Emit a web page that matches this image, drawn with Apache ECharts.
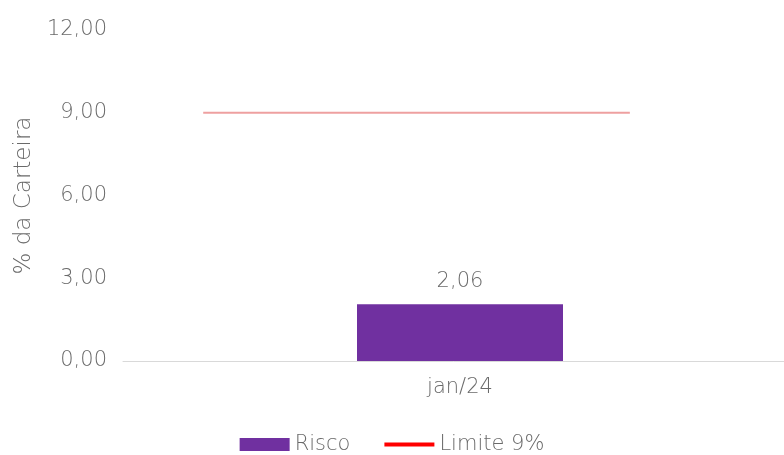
<!DOCTYPE html>
<html>
<head>
<meta charset="utf-8">
<script src="https://cdn.jsdelivr.net/npm/echarts@6/dist/echarts.min.js"></script>
<style>
  html, body { margin: 0; padding: 0; background: #fff; }
  #chart { width: 784px; height: 455px; }
</style>
</head>
<body>
<div id="chart"></div>
<script>
// data
const categories = ['jan/24'];
const riscoValues = [2.06];
const limiteValue = 9;
// start / end of the limit line along the plot width (0..1)
const limiteSpan = [0.119, 0.752];
const yTicks = { min: 0, max: 12, interval: 3 };

const fmt = v => Number(v).toFixed(2).replace('.', ',');
const textColor = '#6a6a6a';
const fontFamily = '"DejaVu Sans", sans-serif';
const fs = 21;

const chart = echarts.init(document.getElementById('chart'));
chart.setOption({
  animation: false,
  textStyle: { fontFamily: fontFamily, color: textColor },
  grid: { left: 123, top: 30, right: -13, bottom: 94, outerBoundsMode: 'none' },
  legend: {
    bottom: 0,
    padding: 0,
    left: 'center',
    itemGap: 34,
    itemWidth: 50,
    itemHeight: 13,
    textStyle: { fontSize: fs, color: textColor, fontWeight: 200 },
    data: [
      { name: 'Risco', icon: 'rect', itemStyle: { color: '#7030a0' } },
      { name: 'Limite 9%', icon: 'path://M0,0 L48,0 L48,4 L0,4 Z', itemStyle: { color: '#ff0000' } }
    ]
  },
  xAxis: [
    {
      type: 'category',
      data: categories,
      axisLine: { lineStyle: { color: '#d9d9d9', width: 1 } },
      axisTick: { show: false },
      axisLabel: { fontSize: fs, color: textColor, margin: 16, fontWeight: 200 }
    },
    {
      type: 'value',
      min: 0,
      max: 1,
      show: false
    }
  ],
  yAxis: {
    type: 'value',
    min: yTicks.min,
    max: yTicks.max,
    interval: yTicks.interval,
    name: '% da Carteira',
    nameLocation: 'middle',
    nameGap: 84,
    nameTextStyle: { fontSize: 23, color: textColor, fontWeight: 200 },
    axisLine: { show: false },
    axisTick: { show: false },
    splitLine: { show: false },
    axisLabel: { fontSize: fs, color: textColor, margin: 16, fontWeight: 200, formatter: fmt }
  },
  series: [
    {
      name: 'Risco',
      type: 'bar',
      data: riscoValues,
      barWidth: 206,
      itemStyle: { color: '#7030a0' },
      label: {
        show: true,
        position: 'top',
        distance: 12,
        fontSize: fs,
        color: textColor,
        fontWeight: 200,
        formatter: p => fmt(p.value)
      }
    },
    {
      name: 'Limite 9%',
      type: 'line',
      xAxisIndex: 1,
      data: limiteSpan.map(x => [x, limiteValue]),
      symbol: 'none',
      lineStyle: { color: '#eea0a0', width: 2 },
      itemStyle: { color: '#ff0000' }
    }
  ]
});
</script>
</body>
</html>
